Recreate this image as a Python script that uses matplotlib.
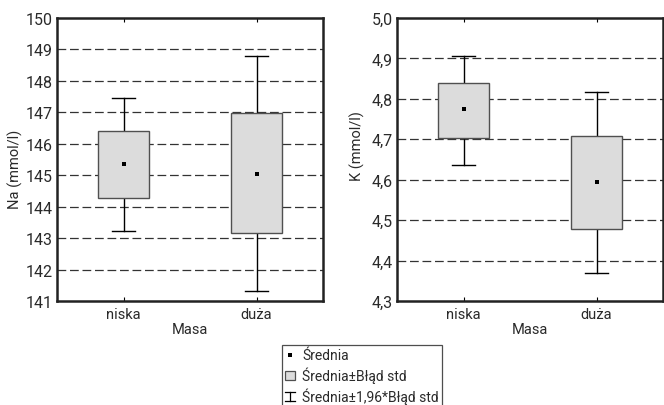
import matplotlib
matplotlib.use("Agg")
import matplotlib.pyplot as plt
from matplotlib.patches import Rectangle
from matplotlib.lines import Line2D
from matplotlib.legend_handler import HandlerBase

plt.rcParams['font.family'] = ['Roboto', 'DejaVu Sans']

categories = ["niska", "duża"]

na_mean = [145.37, 145.05]
na_se_low = [144.27, 143.15]
na_se_high = [146.42, 146.97]
na_ci_low = [143.23, 141.33]
na_ci_high = [147.45, 148.78]
na_ticks = [141, 142, 143, 144, 145, 146, 147, 148, 149, 150]

k_mean = [4.775, 4.595]
k_se_low = [4.703, 4.478]
k_se_high = [4.840, 4.707]
k_ci_low = [4.637, 4.370]
k_ci_high = [4.905, 4.818]
k_ticks = [4.3, 4.4, 4.5, 4.6, 4.7, 4.8, 4.9, 5.0]

box_face = "#dcdcdc"
box_edge = "#505050"
txt = "#2a2a2a"

fig = plt.figure(figsize=(6.64, 4.06), dpi=100)
ax1 = fig.add_axes([57/664, 1-302/406, 266/664, 283/406])
ax2 = fig.add_axes([397/664, 1-302/406, 266/664, 283/406])


def draw(ax, mean, lo, hi, cilo, cihi, ticks, ylabel, fmt, lab_xy):
    x = range(len(categories))
    bw = 0.39
    cw = 0.17
    for i in x:
        ax.plot([i, i], [cilo[i], lo[i]], color="black", lw=1.0, zorder=3)
        ax.plot([i, i], [hi[i], cihi[i]], color="black", lw=1.0, zorder=3)
        ax.plot([i - cw/2, i + cw/2], [cilo[i], cilo[i]], color="black", lw=1.0, zorder=3)
        ax.plot([i - cw/2, i + cw/2], [cihi[i], cihi[i]], color="black", lw=1.0, zorder=3)
        ax.add_patch(Rectangle((i - bw/2, lo[i]), bw, hi[i] - lo[i],
                               facecolor=box_face, edgecolor=box_edge, lw=1.0, zorder=4))
        ax.plot([i], [mean[i]], marker="s", ms=2.4, mew=0, color="black", zorder=5)
    ax.set_xlim(-0.5, 1.5)
    ax.set_ylim(ticks[0], ticks[-1])
    ax.set_yticks(ticks)
    ax.set_yticklabels([fmt(t) for t in ticks], fontsize=11.5, color=txt)
    ax.set_xticks(list(x))
    ax.set_xticklabels(categories, fontsize=10.5, color=txt)
    for t in ticks[1:-1]:
        ax.axhline(t, color="#333333", lw=0.9, ls=(0, (7, 3)), zorder=1)
    ax.tick_params(axis="both", direction="in", length=3, width=0.8, top=True, right=True, pad=4)
    ax.tick_params(axis="y", left=False, right=False, pad=3)
    ax.set_ylabel(ylabel, fontsize=10.5, color=txt)
    ax.yaxis.set_label_coords(*lab_xy)
    ax.set_xlabel("Masa", fontsize=10.5, color=txt, labelpad=1)
    for s in ax.spines.values():
        s.set_linewidth(1.8)
        s.set_color("#222222")


draw(ax1, na_mean, na_se_low, na_se_high, na_ci_low, na_ci_high, na_ticks,
     "Na (mmol/l)", lambda t: f"{t:d}", (-0.128, 0.47))
draw(ax2, k_mean, k_se_low, k_se_high, k_ci_low, k_ci_high, k_ticks,
     "K (mmol/l)", lambda t: f"{t:.1f}".replace(".", ","), (-0.12, 0.55))


class WhiskerHandler(HandlerBase):
    def create_artists(self, legend, orig, xd, yd, w, h, fontsize, trans):
        cx = xd + w/2
        l1 = Line2D([cx, cx], [yd, yd + h], color="black", lw=0.9, transform=trans)
        l2 = Line2D([cx - 3.5, cx + 3.5], [yd, yd], color="black", lw=0.9, transform=trans)
        l3 = Line2D([cx - 3.5, cx + 3.5], [yd + h, yd + h], color="black", lw=0.9, transform=trans)
        return [l1, l2, l3]


h1 = Line2D([], [], marker="s", ms=2.4, mew=0, color="black", ls="none")
h2 = Rectangle((0, 0), 1, 1, facecolor=box_face, edgecolor=box_edge, lw=0.9)
h3 = Line2D([], [], color="black")

leg = fig.legend([h1, h2, h3],
                 ["Średnia", "Średnia±Błąd std", "Średnia±1,96*Błąd std"],
                 handler_map={h3: WhiskerHandler()},
                 loc="upper left", bbox_to_anchor=(282/664, 1-346/406),
                 fontsize=10, frameon=True, fancybox=False,
                 handlelength=0.7, handleheight=0.6, handletextpad=0.5,
                 borderpad=0.25, labelspacing=0.3, borderaxespad=0)
leg.get_frame().set_edgecolor("#222222")
leg.get_frame().set_linewidth(0.9)
for t in leg.get_texts():
    t.set_color(txt)

fig.savefig("out.png", dpi=100)
